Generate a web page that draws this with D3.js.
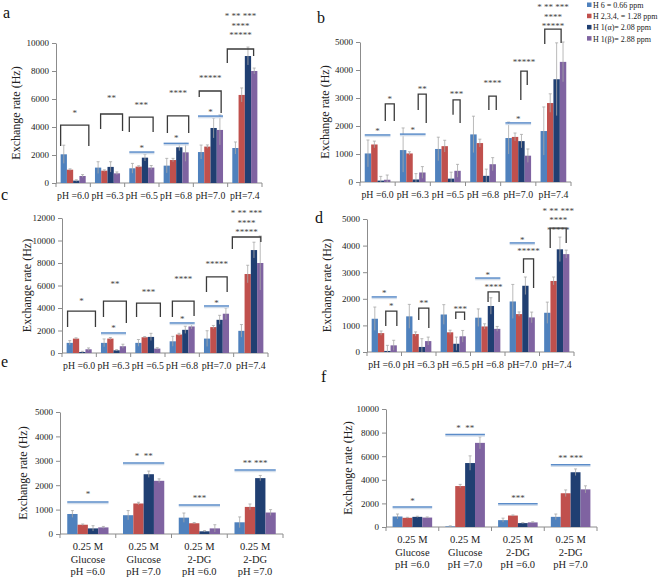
<!DOCTYPE html>
<html>
<head>
<meta charset="utf-8">
<script src="https://cdn.jsdelivr.net/npm/d3@7/dist/d3.min.js"></script>
<style>
  body { margin: 0; background: #fff; }
  text { font-family: "Liberation Serif", "Times New Roman", serif; }
</style>
</head>
<body>
<div id="chart"></div>
<script>
// Legend series
const seriesNames = ["H 6 = 0.66 ppm", "H 2,3,4, = 1.28 ppm", "H 1(α)= 2.08 ppm", "H 1(β)= 2.88 ppm"];
const seriesColors = ["#4f81bd", "#c0504d", "#203f72", "#7f63a1"];

// Category labels
const phLabels = [["pH =6.0"], ["pH =6.3"], ["pH =6.5"], ["pH =6.8"], ["pH=7.0"], ["pH=7.4"]];
const sugarLabels = [
    ["0.25 M", "Glucose", "pH =6.0"],
    ["0.25 M", "Glucose", "pH =7.0"],
    ["0.25 M", "2-DG", "pH =6.0"],
    ["0.25 M", "2-DG", "pH =7.0"]
];

// Panel a: mean and error, one row per category, one column per series
const aMean = [[2050, 950, 170, 500], [1100, 880, 1150, 690], [1050, 1170, 1810, 1100],
               [1240, 1640, 2550, 2190], [2210, 2600, 3930, 3790], [2500, 6290, 9070, 8000]];
const aErr  = [[650, 60, 60, 100], [420, 60, 370, 100], [350, 60, 240, 150],
               [520, 120, 240, 640], [500, 120, 710, 1070], [430, 500, 640, 210]];
// brackets: [group, fromBar, toBar, top, leftFoot, rightFoot, labelLevel, label]
const aBrackets = [[0, -0.5, 4.0, 4140, 2640, 2640, 5070, "*"],
                   [1, 0.4, 3.9, 4930, 3860, 3710, 6140, "**"],
                   [2, -0.5, 3.3, 4710, 3640, 3640, 5640, "***"],
                   [3, 0.1, 3.5, 4790, 3570, 3570, 6500, "****"],
                   [4, -0.3, 3.2, 6570, 6140, 5000, 7570, "*****"],
                   [5, -1.3, 2.9, 9570, 8570, 9070, 12000, "* ** ***|****|*****"]];
// blue lines: [group, level, labelLevel, label]
const aLines = [[2, 2210, 2570, "*"], [3, 2830, 3290, "*"], [4, 4780, 5140, "*"]];

// Panel b
const bMean = [[1020, 1340, 50, 80], [1140, 1020, 90, 340], [1180, 1280, 120, 400],
               [1700, 1390, 220, 635], [1570, 1610, 1460, 940], [1820, 2820, 3670, 4290]];
const bErr  = [[480, 120, 150, 170], [790, 60, 210, 210], [420, 210, 230, 230],
               [650, 140, 240, 235], [570, 140, 240, 240], [860, 330, 1300, 710]];
const bBrackets = [[0, 2.7, 4.1, 2790, 2180, 2180, 3000, "*"],
                   [1, 2.35, 3.6, 3140, 2570, 2110, 3360, "**"],
                   [2, 2.3, 3.4, 2930, 2400, 2110, 3180, "***"],
                   [3, 2.4, 3.55, 3070, 2570, 2570, 3570, "****"],
                   [4, 1.9, 2.9, 3960, 2930, 3460, 4320, "*****"],
                   [5, 0.15, 2.7, 5460, 4930, 4960, 6280, "* ** ***|****|*****"]];
const bLines = [[0, 1680, 1860, "*"], [1, 1710, 1890, "*"], [4, 2110, 2290, "*"]];

// Panel c
const cMean = [[900, 1280, 90, 330], [900, 1280, 240, 600], [900, 1400, 1430, 390],
               [1040, 1640, 2060, 2360], [1280, 2300, 2950, 3490], [1970, 7020, 9150, 8000]];
const cErr  = [[200, 70, 60, 120], [350, 100, 60, 180], [300, 60, 320, 80],
               [440, 110, 320, 220], [700, 150, 400, 510], [560, 780, 700, 2400]];
const cBrackets = [[0, -0.35, 4.1, 3730, 2310, 2310, 4710, "*"],
                   [1, -0.1, 3.55, 4620, 3200, 2670, 6220, "**"],
                   [2, -0.3, 3.5, 4440, 3200, 3200, 5510, "***"],
                   [3, -0.06, 3.4, 4620, 3200, 3300, 6670, "****"],
                   [4, -0.1, 3.2, 6760, 5420, 5420, 8000, "*****"],
                   [5, -1.45, 3.1, 10310, 9240, 9870, 12530, "* ** ***|****|*****"]];
const cLines = [[1, 1780, 2310, "*"], [3, 2670, 3110, "*"], [4, 4180, 4530, "*"]];

// Panel d
const dMean = [[1250, 710, 40, 250], [1340, 675, 190, 410], [1410, 740, 310, 590],
               [1290, 960, 1730, 870], [1900, 1425, 2490, 1300], [1475, 2670, 3860, 3680]];
const dErr  = [[440, 80, 210, 190], [450, 80, 310, 150], [370, 80, 250, 220],
               [330, 100, 310, 90], [640, 80, 330, 200], [400, 150, 460, 150]];
const dBrackets = [[0, 1.74, 3.5, 1540, 980, 980, 1770, "*"],
                   [1, 1.5, 3.1, 1650, 1200, 900, 1880, "**"],
                   [2, 1.9, 3.3, 1500, 1240, 1200, 1650, "***"],
                   [3, 1.55, 3.3, 2260, 1880, 1880, 2480, "****"],
                   [4, 1.7, 3.3, 3500, 2970, 2410, 3840, "*****"],
                   [5, 0.46, 3.0, 4660, 3910, 4100, 5340, "* ** ***|****|*****"]];
const dLines = [[0, 2070, 2260, "*"], [3, 2780, 2930, "*"], [4, 4100, 4250, "*"]];

// Panel e
const eMean = [[820, 380, 230, 270], [770, 1250, 2450, 2180], [670, 440, 110, 230], [480, 1110, 2290, 880]];
const eErr  = [[140, 30, 110, 40], [190, 50, 130, 80], [190, 30, 30, 150], [220, 120, 110, 120]];
const eLines = [[0, 1310, 1680, "*"], [1, 2910, 3240, "*  **"], [2, 1190, 1520, "***"], [3, 2620, 2950, "** ***"]];

// Panel f
const fMean = [[890, 780, 860, 800], [50, 3470, 5420, 7130], [580, 970, 330, 390], [860, 2860, 4640, 3190]];
const fErr  = [[210, 40, 50, 50], [50, 140, 610, 510], [170, 50, 40, 50], [240, 280, 280, 300]];
const fLines = [[0, 1700, 2300, "*"], [1, 7830, 8510, "*  **"], [2, 1960, 2550, "***"], [3, 5280, 5960, "** ***"]];

const svg = d3.select("#chart").append("svg")
    .attr("width", 660)
    .attr("height", 580);

function drawPanel(p) {
    const g = svg.append("g");

    const x = d3.scaleBand()
        .domain(d3.range(p.cats.length))
        .range([p.left, p.right])
        .paddingInner(p.pad)
        .paddingOuter(p.pad / 2);
    const xs = d3.scaleBand()
        .domain(d3.range(4))
        .range([0, x.bandwidth()]);
    const y = d3.scaleLinear()
        .domain([0, p.max])
        .range([p.bottom, p.top]);
    const bw = xs.bandwidth();

    // y axis
    const yAxis = g.append("g")
        .attr("transform", `translate(${p.left},0)`)
        .call(d3.axisLeft(y)
            .tickValues(d3.range(0, p.max + 1, p.step))
            .tickSize(4).tickSizeOuter(0).tickPadding(3)
            .tickFormat(d3.format("d")));
    yAxis.selectAll("path, line").attr("stroke", "#8c8c8c");
    yAxis.selectAll("text").attr("font-size", 9).attr("fill", "#222");

    // x axis line with ticks between categories
    g.append("line")
        .attr("x1", p.left).attr("x2", p.right)
        .attr("y1", y(0)).attr("y2", y(0))
        .attr("stroke", "#8c8c8c");
    d3.range(p.cats.length + 1).forEach(i => {
        const bx = p.left + i * x.step();
        g.append("line")
            .attr("x1", bx).attr("x2", bx)
            .attr("y1", y(0)).attr("y2", y(0) + 4)
            .attr("stroke", "#8c8c8c");
    });

    // category labels
    const cat = g.selectAll(".cat")
        .data(p.cats)
        .enter().append("text")
        .attr("text-anchor", "middle")
        .attr("font-size", p.catSize)
        .attr("fill", "#222");
    cat.each(function(lines, i) {
        lines.forEach((t, k) => {
            d3.select(this).append("tspan")
                .attr("x", x(i) + x.bandwidth() / 2)
                .attr("y", y(0) + 16 + k * 12.5)
                .text(t);
        });
    });

    // bars and error bars
    p.mean.forEach((row, i) => {
        row.forEach((v, j) => {
            const bx = x(i) + xs(j);
            g.append("rect")
                .attr("x", bx)
                .attr("y", y(v))
                .attr("width", bw)
                .attr("height", y(0) - y(v))
                .attr("fill", seriesColors[j]);
            const e = p.err[i][j];
            const cx = bx + bw / 2;
            g.append("line")
                .attr("x1", cx).attr("x2", cx)
                .attr("y1", y(Math.max(0, v - e))).attr("y2", y(v + e))
                .attr("stroke", "#a8a8a8").attr("stroke-width", 0.8);
            g.append("line")
                .attr("x1", cx - 1.5).attr("x2", cx + 1.5)
                .attr("y1", y(v + e)).attr("y2", y(v + e))
                .attr("stroke", "#a8a8a8").attr("stroke-width", 0.8);
        });
    });

    // brackets
    (p.brackets || []).forEach(b => {
        const x1 = x(b[0]) + (b[1] + 0.5) * bw;
        const x2 = x(b[0]) + (b[2] + 0.5) * bw;
        g.append("path")
            .attr("d", `M${x1},${y(b[4])}V${y(b[3])}H${x2}V${y(b[5])}`)
            .attr("fill", "none")
            .attr("stroke", "#3a3a3a")
            .attr("stroke-width", 1.3);
        b[7].split("|").forEach((t, k) => {
            g.append("text")
                .attr("x", (x1 + x2) / 2)
                .attr("y", y(b[6]) + 4 + k * 9.5)
                .attr("text-anchor", "middle")
                .attr("font-size", 9)
                .attr("fill", "#444")
                .style("white-space", "pre")
                .text(t);
        });
    });

    // blue significance lines
    (p.lines || []).forEach(l => {
        const x1 = x(l[0]), x2 = x(l[0]) + x.bandwidth();
        g.append("line")
            .attr("x1", x1).attr("x2", x2)
            .attr("y1", y(l[1]) + 1.5).attr("y2", y(l[1]) + 1.5)
            .attr("stroke", "#d3deeb").attr("stroke-width", 1.5);
        g.append("line")
            .attr("x1", x1).attr("x2", x2)
            .attr("y1", y(l[1])).attr("y2", y(l[1]))
            .attr("stroke", "#5b8cc9").attr("stroke-width", 1.5);
        g.append("text")
            .attr("x", (x1 + x2) / 2)
            .attr("y", y(l[2]) + 4)
            .attr("text-anchor", "middle")
            .attr("font-size", 9)
            .attr("fill", "#444")
            .style("white-space", "pre")
            .text(l[3]);
    });

    // y axis title
    g.append("text")
        .attr("transform", `translate(${p.ylx},${(p.top + p.bottom) / 2}) rotate(-90)`)
        .attr("text-anchor", "middle")
        .attr("dy", "0.35em")
        .attr("font-size", 12)
        .attr("fill", "#222")
        .text("Exchange rate (Hz)");

    // panel letter
    g.append("text")
        .attr("x", p.lx)
        .attr("y", p.ly)
        .attr("font-size", 16)
        .attr("fill", "#111")
        .text(p.letter);
}

drawPanel({letter: "a", lx: 3, ly: 18, cats: phLabels, mean: aMean, err: aErr, brackets: aBrackets, lines: aLines,
           left: 56, right: 262, top: 43, bottom: 183, max: 10000, step: 2000, pad: 0.27, ylx: 16, catSize: 9.8});
drawPanel({letter: "b", lx: 317, ly: 23, cats: phLabels, mean: bMean, err: bErr, brackets: bBrackets, lines: bLines,
           left: 360, right: 571, top: 42, bottom: 182, max: 5000, step: 1000, pad: 0.27, ylx: 325, catSize: 9.8});
drawPanel({letter: "c", lx: 1, ly: 200, cats: phLabels, mean: cMean, err: cErr, brackets: cBrackets, lines: cLines,
           left: 62, right: 268, top: 218, bottom: 353, max: 12000, step: 2000, pad: 0.27, ylx: 27, catSize: 9.8});
drawPanel({letter: "d", lx: 315, ly: 223, cats: phLabels, mean: dMean, err: dErr, brackets: dBrackets, lines: dLines,
           left: 367, right: 574, top: 219, bottom: 352, max: 5000, step: 1000, pad: 0.27, ylx: 327, catSize: 9.8});
drawPanel({letter: "e", lx: 1, ly: 367, cats: sugarLabels, mean: eMean, err: eErr, lines: eLines,
           left: 60, right: 283, top: 412, bottom: 534, max: 5000, step: 1000, pad: 0.26, ylx: 23, catSize: 10.5});
drawPanel({letter: "f", lx: 321, ly: 382, cats: sugarLabels, mean: fMean, err: fErr, lines: fLines,
           left: 386, right: 597, top: 409, bottom: 527, max: 10000, step: 2000, pad: 0.25, ylx: 348, catSize: 10.5});

// Legend
const legend = svg.selectAll(".legend")
    .data(seriesNames)
    .enter().append("g")
    .attr("class", "legend")
    .attr("transform", (d, i) => `translate(587,${5 + i * 11.2})`);

legend.append("rect")
    .attr("x", 0).attr("y", -2.5)
    .attr("width", 4.5).attr("height", 4.5)
    .attr("fill", (d, i) => seriesColors[i]);

legend.append("text")
    .attr("x", 6)
    .attr("y", 3)
    .attr("font-size", 8)
    .attr("fill", "#222")
    .text(d => d);
</script>
</body>
</html>
